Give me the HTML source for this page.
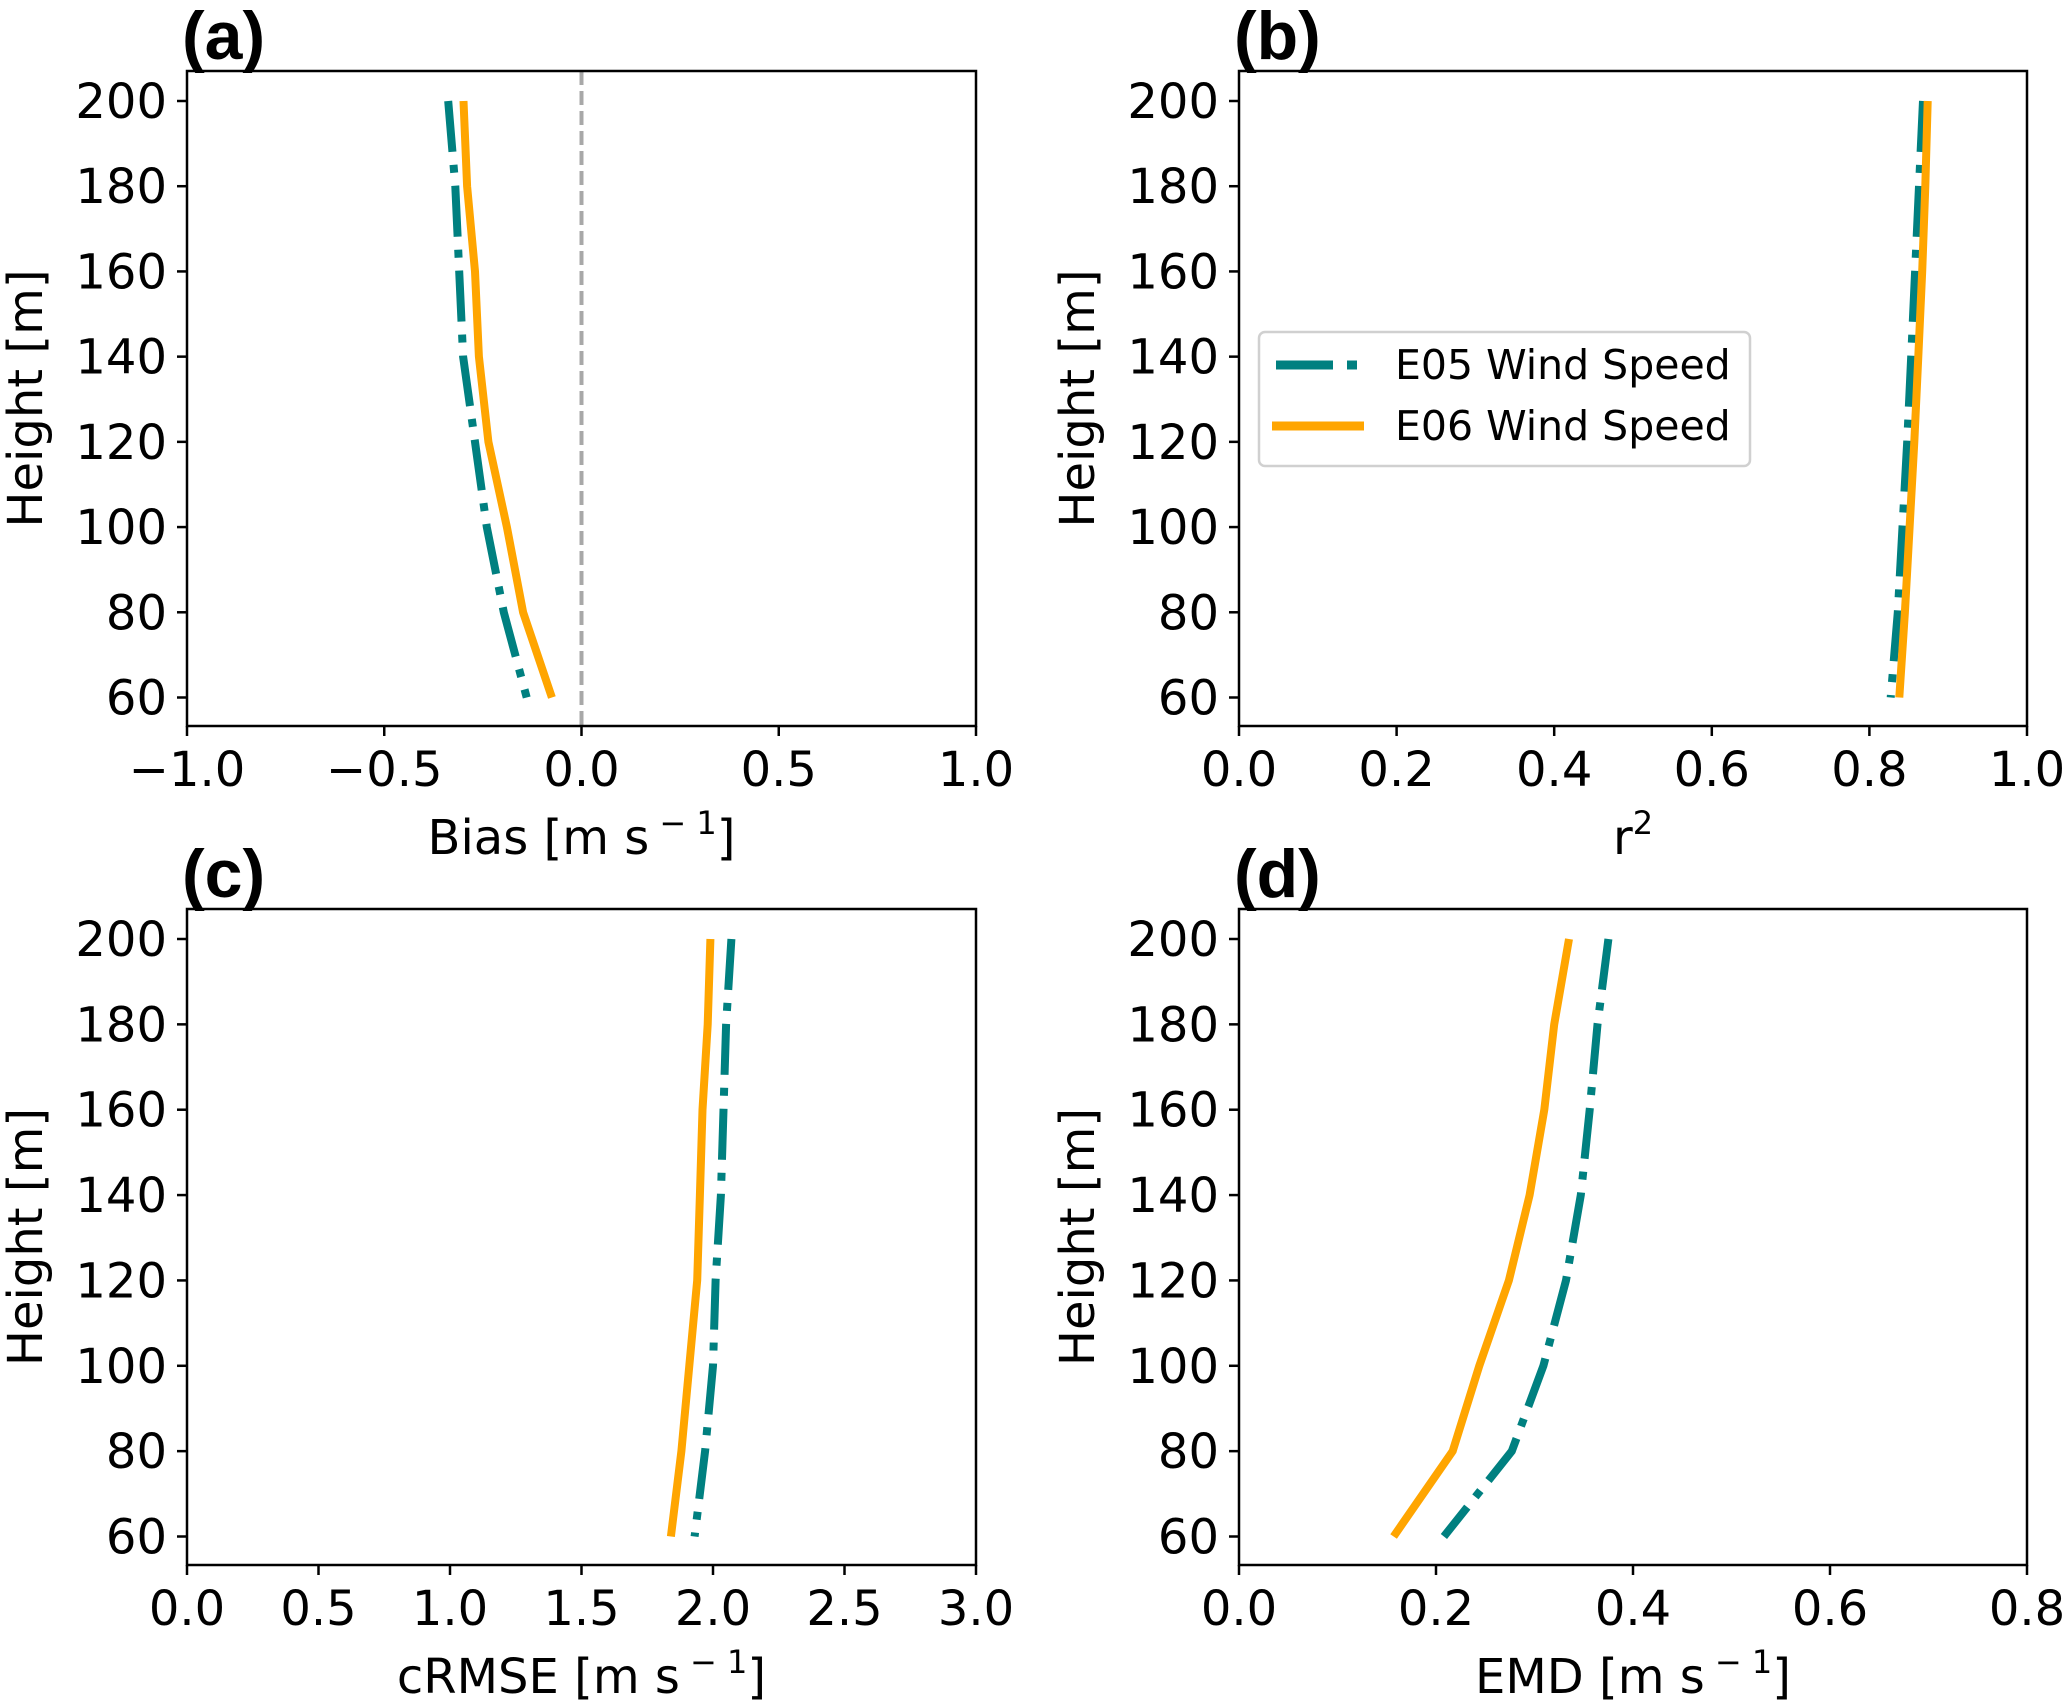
<!DOCTYPE html>
<html><head><meta charset="utf-8">
<style>
html,body{margin:0;padding:0;background:#fff;}
svg{display:block;font-family:"DejaVu Sans","Liberation Sans",sans-serif;}
</style></head>
<body>
<svg id="fig" width="2067" height="1701" viewBox="0 0 2067 1701" xmlns="http://www.w3.org/2000/svg"></svg>
<script>
const heights = [200,180,160,140,120,100,80,60];
const biasE05 = [-0.338,-0.32,-0.31,-0.30,-0.27,-0.24,-0.197,-0.139];
const biasE06 = [-0.299,-0.29,-0.27,-0.26,-0.236,-0.189,-0.148,-0.075];
const r2E05 = [0.868,0.863,0.858,0.853,0.848,0.842,0.836,0.827];
const r2E06 = [0.874,0.871,0.867,0.862,0.857,0.851,0.845,0.838];
const crmseE05 = [2.07,2.05,2.04,2.03,2.01,2.00,1.97,1.93];
const crmseE06 = [1.99,1.98,1.96,1.95,1.94,1.91,1.88,1.84];
const emdE05 = [0.375,0.364,0.356,0.347,0.332,0.309,0.277,0.208];
const emdE06 = [0.335,0.320,0.310,0.295,0.274,0.244,0.217,0.157];
const yTicks = [60,80,100,120,140,160,180,200];
const xTicksA = ["−1.0","−0.5","0.0","0.5","1.0"];
const xTicksB = ["0.0","0.2","0.4","0.6","0.8","1.0"];
const xTicksC = ["0.0","0.5","1.0","1.5","2.0","2.5","3.0"];
const xTicksD = ["0.0","0.2","0.4","0.6","0.8"];

const NS="http://www.w3.org/2000/svg";
const svg=document.getElementById('fig');
function mk(tag,attrs,parent){const e=document.createElementNS(NS,tag);for(const k in attrs)e.setAttribute(k,attrs[k]);(parent||svg).appendChild(e);return e;}

const TEAL="#008080", ORANGE="#FFA500";
const panels=[
 {id:'a',L:187,R:976,T:71,B:726,xmin:-1,xmax:1,ticks:xTicksA,tv:[-1,-0.5,0,0.5,1],xlabel:'Bias [m s',s1:biasE05,s2:biasE06,zero:true},
 {id:'b',L:1239,R:2027,T:71,B:726,xmin:0,xmax:1,ticks:xTicksB,tv:[0,0.2,0.4,0.6,0.8,1.0],xlabel:'r',r2:true,s1:r2E05,s2:r2E06,legend:true},
 {id:'c',L:187,R:976,T:909,B:1565,xmin:0,xmax:3,ticks:xTicksC,tv:[0,0.5,1,1.5,2,2.5,3],xlabel:'cRMSE [m s',s1:crmseE05,s2:crmseE06},
 {id:'d',L:1239,R:2027,T:909,B:1565,xmin:0,xmax:0.8,ticks:xTicksD,tv:[0,0.2,0.4,0.6,0.8],xlabel:'EMD [m s',s1:emdE05,s2:emdE06}
];
panels.forEach(p=>{
  const g=mk('g',{});
  
  
  const yTop=p.T+30, yBot=p.B-28.5;
  const Y=v=>yBot+(v-60)/(200-60)*(yTop-yBot);
  const X=v=>p.L+(v-p.xmin)/(p.xmax-p.xmin)*(p.R-p.L);
  if(p.zero){const z=mk('line',{x1:X(0),x2:X(0),y1:p.T,y2:p.B,stroke:'#a8a8a8','stroke-width':4,'stroke-dasharray':'14,6'},g);
    }
  [[p.s1,TEAL,'51,13,8,13','e05'],[p.s2,ORANGE,null,'e06']].forEach(([s,c,d,n])=>{
    const pts=s.map((v,i)=>X(v).toFixed(1)+','+Y(heights[i]).toFixed(1)).join(' ');
    const a={points:pts,fill:'none',stroke:c,'stroke-width':8};
    if(d)a['stroke-dasharray']=d;
    const pl=mk('polyline',a,g);
    
    
  });
  const fr=mk('rect',{x:p.L,y:p.T,width:p.R-p.L,height:p.B-p.T,fill:'none',stroke:'#000','stroke-width':2.5},g);
  
  yTicks.forEach(v=>{
    mk('line',{x1:p.L-10,x2:p.L,y1:Y(v),y2:Y(v),stroke:'#000','stroke-width':2.5},g);
    const t=mk('text',{x:p.L-20,y:Y(v)+17,'text-anchor':'end','font-size':48},g);t.textContent=v;
    
  });
  p.tv.forEach((v,i)=>{
    mk('line',{x1:X(v),x2:X(v),y1:p.B,y2:p.B+10,stroke:'#000','stroke-width':2.5},g);
    const t=mk('text',{x:X(v),y:p.B+60,'text-anchor':'middle','font-size':48},g);t.textContent=p.ticks[i];
    
  });
  const yl=mk('text',{x:0,y:0,transform:`translate(${p.L-145},${(p.T+p.B)/2}) rotate(-90)`,'text-anchor':'middle','font-size':48},g);
  yl.textContent='Height [m]';
  const xl=mk('text',{x:(p.L+p.R)/2,y:p.B+128,'text-anchor':'middle','font-size':48},g);
  
  if(p.r2){xl.innerHTML='r<tspan font-size="32" dy="-20">2</tspan>';}
  else{xl.innerHTML=p.xlabel+'<tspan font-size="32" dy="-20"> − 1</tspan><tspan dy="20">]</tspan>';}
  const pl=mk('text',{x:p.L-5,y:p.T-12,'font-size':68,'font-weight':'bold','font-family':'Liberation Sans, sans-serif'},g);
  pl.textContent='('+p.id+')';
  if(p.legend){
    const lg=mk('g',{},g);
    mk('rect',{x:1259,y:332,width:491,height:134,rx:6,fill:'#fff',stroke:'#d0d0d0','stroke-width':2.5},lg);
    mk('line',{x1:1276,x2:1364,y1:365,y2:365,stroke:TEAL,'stroke-width':9,'stroke-dasharray':'57,14,10,20'},lg);
    mk('line',{x1:1272,x2:1364,y1:426,y2:426,stroke:ORANGE,'stroke-width':9},lg);
    const t1=mk('text',{x:1395,y:379,'font-size':41},lg);t1.textContent='E05 Wind Speed';
    
    const t2=mk('text',{x:1395,y:440,'font-size':41},lg);t2.textContent='E06 Wind Speed';
    
  }
});
</script>
</body></html>
